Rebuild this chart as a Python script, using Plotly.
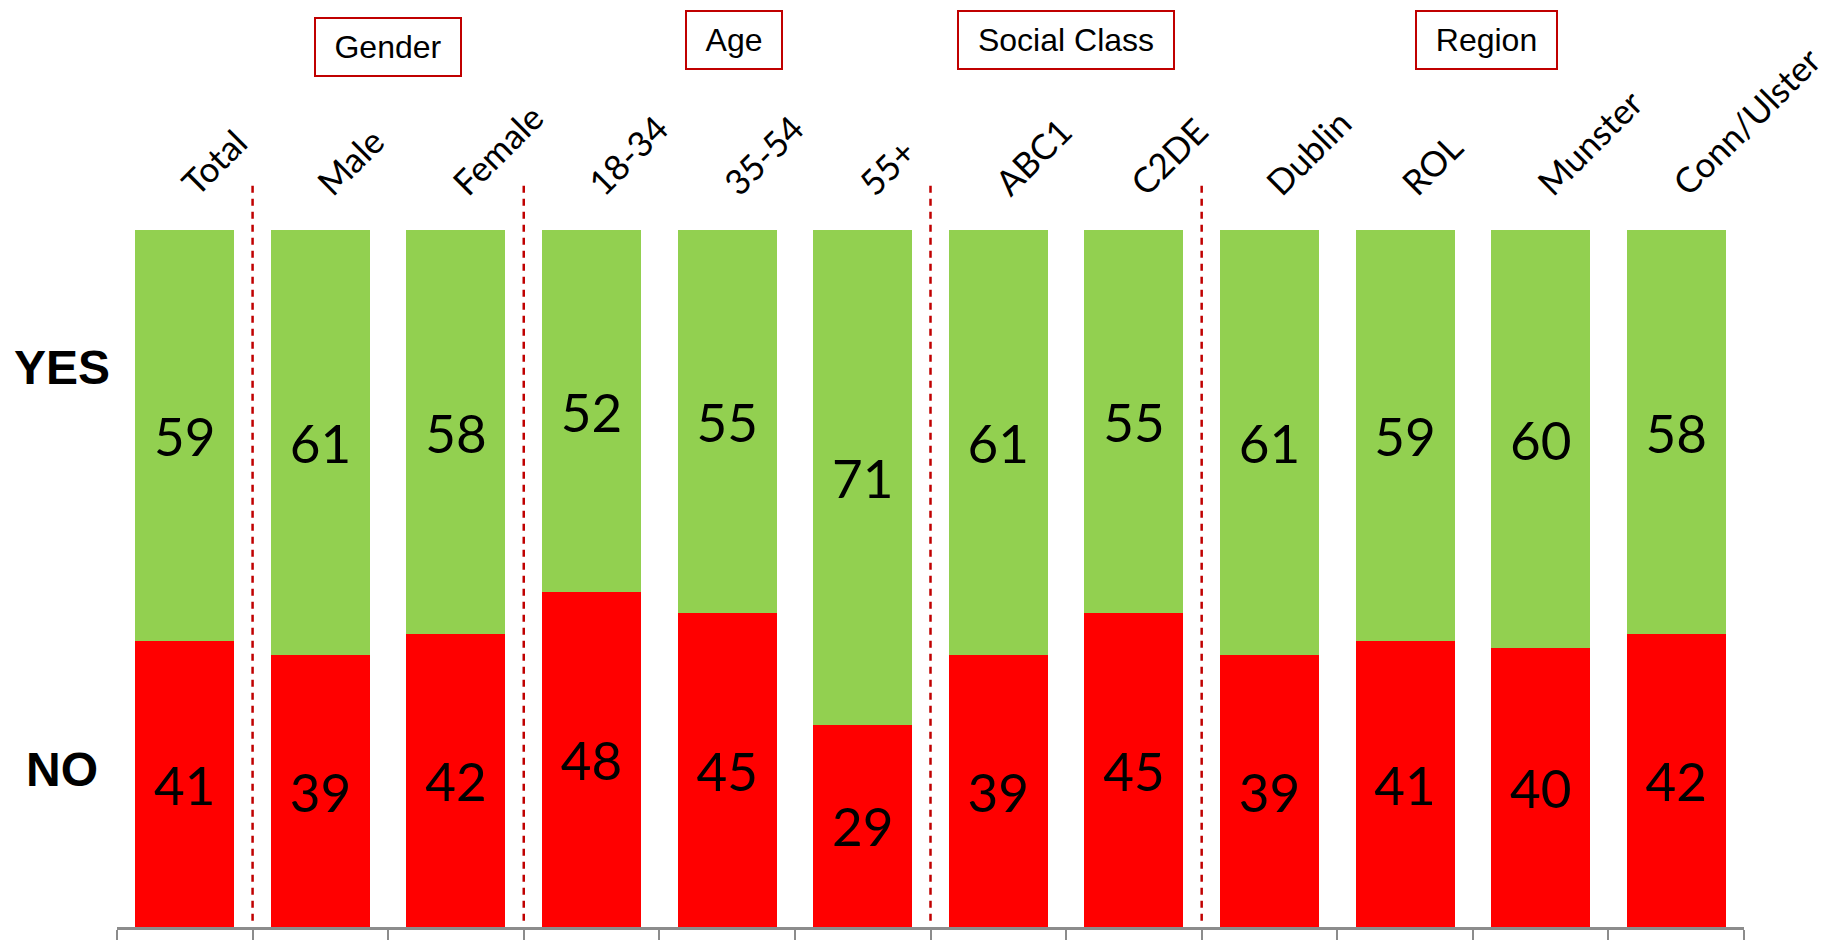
import plotly.graph_objects as go

categories = ["Total", "Male", "Female", "18-34", "35-54", "55+",
              "ABC1", "C2DE", "Dublin", "ROL", "Munster", "Conn/Ulster"]
yes_values = [59, 61, 58, 52, 55, 71, 61, 55, 61, 59, 60, 58]
no_values = [41, 39, 42, 48, 45, 29, 39, 45, 39, 41, 40, 42]
group_labels = ["Gender", "Age", "Social Class", "Region"]
divider_after = ["Total", "Female", "55+", "C2DE"]

GREEN = "#92D050"
RED = "#FF0000"
DARKRED = "#C00000"
VAL_FONT = dict(family="Lato, Open Sans, sans-serif", size=53, color="black")

fig = go.Figure()
fig.add_trace(go.Bar(
    x=categories, y=no_values, name="NO", marker=dict(color=RED, line=dict(width=0)),
    text=no_values, textposition="inside", insidetextanchor="middle",
    textangle=0, insidetextfont=VAL_FONT, constraintext="none", hoverinfo="x+y"))
fig.add_trace(go.Bar(
    x=categories, y=yes_values, name="YES", marker=dict(color=GREEN, line=dict(width=0)),
    text=yes_values, textposition="inside", insidetextanchor="middle",
    textangle=0, insidetextfont=VAL_FONT, constraintext="none", hoverinfo="x+y"))
# invisible trace to carry the top category-label axis
fig.add_trace(go.Scatter(x=categories, y=[0] * len(categories), xaxis="x2",
                         mode="markers", marker=dict(opacity=0, size=1),
                         hoverinfo="skip", showlegend=False))

fig.update_layout(
    barmode="stack", bargap=0.27, showlegend=False,
    autosize=True,
    margin=dict(l=117, r=83, t=230, b=9),
    plot_bgcolor="white", paper_bgcolor="white",
    xaxis=dict(type="category", categoryorder="array", categoryarray=categories,
               range=[-0.5, len(categories) - 0.5],
               showline=True, linecolor="#8c8c8c", linewidth=3,
               ticks="outside", tickson="boundaries", ticklen=10, tickwidth=2,
               tickcolor="#8c8c8c", showticklabels=False, showgrid=False, zeroline=False),
    xaxis2=dict(type="category", overlaying="x", side="top", matches="x",
                categoryorder="array", categoryarray=categories,
                showline=False, showgrid=False, zeroline=False,
                ticks="outside", ticklen=12, tickcolor="rgba(0,0,0,0)",
                tickangle=-45, tickfont=dict(family="Lato, Open Sans, sans-serif", size=35, color="black")),
    yaxis=dict(range=[0, 100], visible=False, fixedrange=True),
)

# dashed group dividers
for c in divider_after:
    xpos = categories.index(c) + 0.5
    fig.add_shape(type="line", xref="x", yref="paper", x0=xpos, x1=xpos,
                  y0=0.009, y1=1.068, line=dict(color=DARKRED, width=2.5, dash="7px,6px"))

# group header boxes
group_pos = [(1.5, 1.262, 144), (4.05, 1.272, 94), (6.5, 1.272, 214), (9.6, 1.273, 139)]
for label, (gx, gy, gw) in zip(group_labels, group_pos):
    fig.add_annotation(text=label, xref="x", yref="paper", x=gx, y=gy,
                       xanchor="center", yanchor="middle", showarrow=False,
                       width=gw, height=56, borderpad=0, borderwidth=2,
                       bordercolor=DARKRED, bgcolor="white",
                       font=dict(family="Liberation Sans, Arial, sans-serif", size=32, color="black"))

# YES / NO side labels
for label, yy in [("YES", 80.3), ("NO", 22.6)]:
    fig.add_annotation(text="<b>%s</b>" % label, xref="paper", yref="y", x=-0.034, y=yy,
                       xanchor="center", yanchor="middle", showarrow=False,
                       font=dict(family="Liberation Sans, Arial, sans-serif", size=48, color="black"))

fig.write_html("out.html", default_width="100vw", default_height="100vh",
               config={"displayModeBar": False},
               post_script="document.body.style.margin='0';document.body.style.overflow='hidden';")
